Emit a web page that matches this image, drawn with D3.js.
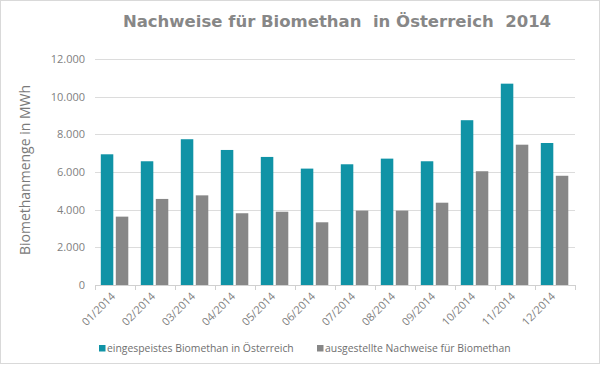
<!DOCTYPE html>
<html>
<head>
<meta charset="utf-8">
<script src="https://cdn.jsdelivr.net/npm/d3@7"></script>
<style>
body { margin: 0; background: #fff; }
svg { display: block; }
</style>
</head>
<body>
<svg width="600" height="366"></svg>
<script>
var months = ["01/2014", "02/2014", "03/2014", "04/2014", "05/2014", "06/2014",
              "07/2014", "08/2014", "09/2014", "10/2014", "11/2014", "12/2014"];
var eingespeist = [6940, 6570, 7740, 7170, 6800, 6180, 6410, 6710, 6570, 8750, 10690, 7540];
var nachweise = [3630, 4570, 4760, 3810, 3890, 3330, 3950, 3950, 4370, 6040, 7450, 5800];
var seriesNames = ["eingespeistes Biomethan in Österreich", "ausgestellte Nachweise für Biomethan"];
var yTicks = [0, 2000, 4000, 6000, 8000, 10000, 12000];

var colors = ["#1093a6", "#878787"];

var svg = d3.select("svg"),
    width = +svg.attr("width"),
    height = +svg.attr("height");

svg.append("rect")
    .attr("x", 0.5).attr("y", 0.5)
    .attr("width", width - 1).attr("height", height - 3)
    .attr("fill", "#fff").attr("stroke", "#d9d9d9");

var plotLeft = 95, plotRight = 575, plotTop = 59, plotBottom = 285;

var x = d3.scaleBand().domain(months).range([plotLeft, plotRight]);
var y = d3.scaleLinear().domain([0, 12000]).range([plotBottom, plotTop]);

var fmt = function(v) { return d3.format(",")(v).replace(/,/g, "."); };

// gridlines
svg.append("g")
    .selectAll("line")
    .data(yTicks.filter(function(d) { return d > 0; }))
    .enter().append("line")
    .attr("x1", plotLeft).attr("x2", plotRight)
    .attr("y1", function(d) { return Math.round(y(d)) + 0.5; })
    .attr("y2", function(d) { return Math.round(y(d)) + 0.5; })
    .attr("stroke", "#dcdcdc");

// y labels
svg.append("g")
    .selectAll("text")
    .data(yTicks)
    .enter().append("text")
    .attr("x", 85)
    .attr("y", function(d) { return y(d) + 4; })
    .attr("text-anchor", "end")
    .attr("font-family", "Open Sans, sans-serif")
    .attr("font-size", 11)
    .attr("fill", "#7f7f7f")
    .text(fmt);

// bars
var barW = 12.5, gap = 2.5;
var groupOffset = 5.8;
var data = months.map(function(m, i) { return { m: m, v: [eingespeist[i], nachweise[i]] }; });

var groups = svg.append("g")
    .selectAll("g")
    .data(data)
    .enter().append("g");

[0, 1].forEach(function(s) {
    groups.append("rect")
        .attr("x", function(d) { return x(d.m) + groupOffset + s * (barW + gap); })
        .attr("y", function(d) { return y(d.v[s]); })
        .attr("width", barW)
        .attr("height", function(d) { return plotBottom - y(d.v[s]); })
        .attr("fill", colors[s]);
});

// x axis line and ticks
svg.append("line")
    .attr("x1", plotLeft).attr("x2", plotRight)
    .attr("y1", plotBottom + 0.5).attr("y2", plotBottom + 0.5)
    .attr("stroke", "#d0d0d0");

svg.append("g")
    .selectAll("line")
    .data(months.concat(["end"]))
    .enter().append("line")
    .attr("x1", function(d, i) { return plotLeft + i * x.step() + 0.5; })
    .attr("x2", function(d, i) { return plotLeft + i * x.step() + 0.5; })
    .attr("y1", plotBottom).attr("y2", plotBottom + 5)
    .attr("stroke", "#d0d0d0");

// x labels
svg.append("g")
    .selectAll("text")
    .data(months)
    .enter().append("text")
    .attr("transform", function(d) {
        return "translate(" + (x(d) + x.bandwidth() / 2 + 1) + "," + (plotBottom + 12) + ") rotate(-45)";
    })
    .attr("text-anchor", "end")
    .attr("font-family", "Open Sans, sans-serif")
    .attr("font-size", 11)
    .attr("fill", "#7f7f7f")
    .text(function(d) { return d; });

// title
svg.append("text")
    .attr("x", 337)
    .attr("y", 27)
    .attr("text-anchor", "middle")
    .attr("font-family", "DejaVu Sans, sans-serif")
    .attr("font-weight", "bold")
    .attr("font-size", 16.5)
    .attr("fill", "#878787")
    .style("white-space", "pre")
    .text("Nachweise für Biomethan  in Österreich  2014");

// y axis title
svg.append("text")
    .attr("transform", "translate(30," + ((plotTop + plotBottom) / 2 - 2) + ") rotate(-90)")
    .attr("text-anchor", "middle")
    .attr("font-family", "Open Sans, sans-serif")
    .attr("font-size", 14)
    .attr("fill", "#7a7a7a")
    .text("Biomethanmenge in MWh");

// legend
var legendX = [99, 317];
var legend = svg.append("g")
    .selectAll("g")
    .data(seriesNames)
    .enter().append("g")
    .attr("transform", function(d, i) { return "translate(" + legendX[i] + ",352)"; });

legend.append("rect")
    .attr("x", 0).attr("y", -7)
    .attr("width", 6.5).attr("height", 6.5)
    .attr("fill", function(d, i) { return colors[i]; });

legend.append("text")
    .attr("x", 8).attr("y", 0)
    .attr("font-family", "Open Sans, sans-serif")
    .attr("font-size", 10.4)
    .attr("fill", "#6f6f6f")
    .text(function(d) { return d; });
</script>
</body>
</html>
